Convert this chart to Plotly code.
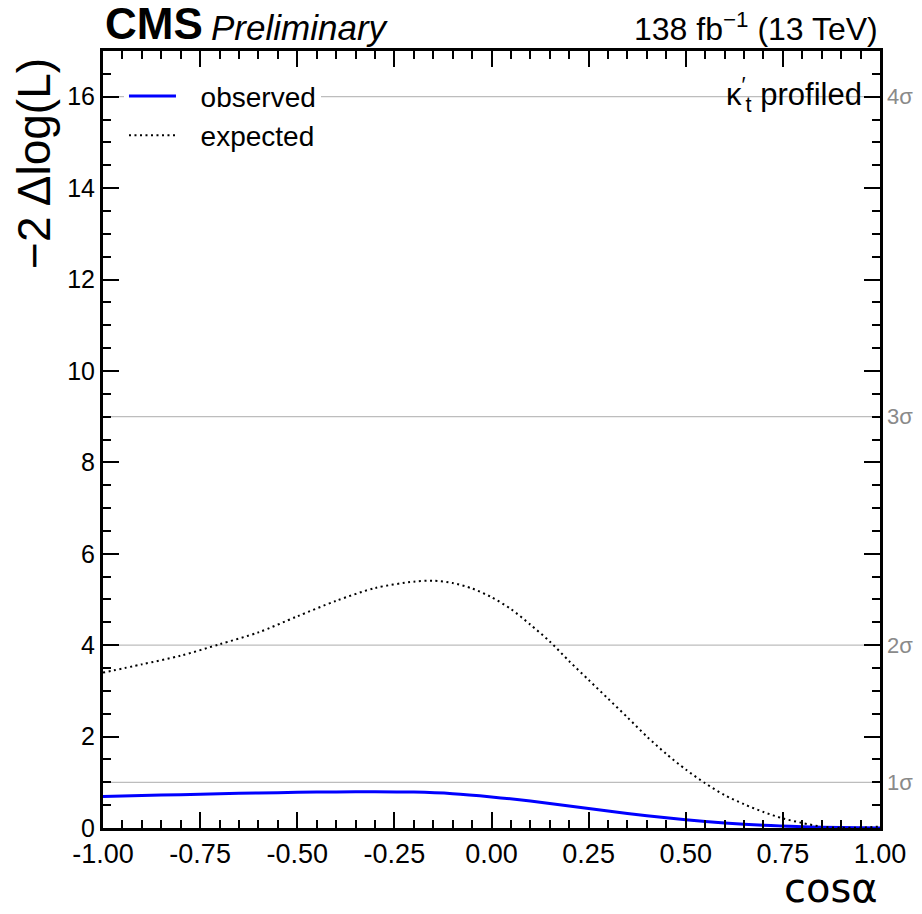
import plotly.graph_objects as go

# Likelihood scan in cos(alpha), kappa'_t profiled
cos_alpha_exp = [-1.0, -0.9, -0.8, -0.7, -0.6, -0.5, -0.4, -0.3, -0.2, -0.15, -0.1, -0.05,
                 0.0, 0.05, 0.1, 0.15, 0.2, 0.25, 0.3, 0.35, 0.4, 0.45, 0.5, 0.55,
                 0.6, 0.65, 0.7, 0.75, 0.8, 0.85, 0.9, 0.95, 1.0]
nll_expected = [3.40, 3.58, 3.77, 4.02, 4.28, 4.63, 4.97, 5.25, 5.39, 5.41, 5.36, 5.24,
                5.05, 4.79, 4.45, 4.08, 3.65, 3.24, 2.83, 2.42, 2.00, 1.62, 1.28, 0.98,
                0.72, 0.52, 0.35, 0.21, 0.11, 0.03, 0.005, 0.01, 0.03]

cos_alpha_obs = [-1.0, -0.9, -0.8, -0.7, -0.6, -0.5, -0.4, -0.3, -0.2, -0.1,
                 0.0, 0.1, 0.2, 0.3, 0.4, 0.5, 0.6, 0.7, 0.8, 0.9, 1.0]
nll_observed = [0.69, 0.71, 0.73, 0.75, 0.765, 0.78, 0.79, 0.795, 0.785, 0.75,
                0.68, 0.59, 0.48, 0.37, 0.27, 0.18, 0.11, 0.06, 0.03, 0.01, 0.0]

# Significance reference levels
sigma_levels = [1, 4, 9, 16]
sigma_labels = ["1σ", "2σ", "3σ", "4σ"]

x_tickvals = [-1.0, -0.75, -0.5, -0.25, 0.0, 0.25, 0.5, 0.75, 1.0]
x_ticktext = ["-1.00", "-0.75", "-0.50", "-0.25", "0.00", "0.25", "0.50", "0.75", "1.00"]
y_tickvals = [0, 2, 4, 6, 8, 10, 12, 14, 16]

FONT = "Liberation Sans, Arial, Helvetica, sans-serif"
WIDE_FONT = "DejaVu Sans, Verdana, sans-serif"
LEGEND_PAD = "\u2002\u2009"  # extra gap between legend sample and its label

fig = go.Figure()

fig.add_trace(go.Scatter(
    x=cos_alpha_obs, y=nll_observed, mode="lines", name=LEGEND_PAD + "observed",
    line=dict(color="#0000ff", width=3, shape="spline", smoothing=0.8),
))
fig.add_trace(go.Scatter(
    x=cos_alpha_exp, y=nll_expected, mode="lines", name=LEGEND_PAD + "expected",
    line=dict(color="black", width=2, dash="2px,3.5px", shape="spline", smoothing=0.8),
))

for lvl in sigma_levels:
    fig.add_shape(type="line", xref="paper", x0=0, x1=1, yref="y", y0=lvl, y1=lvl,
                  line=dict(color="#bdbdbd", width=1.2), layer="below")

annotations = []
for lvl, lab in zip(sigma_levels, sigma_labels):
    annotations.append(dict(x=1, xref="paper", y=lvl, yref="y", text=lab,
                            xanchor="left", yanchor="middle", xshift=5, showarrow=False,
                            font=dict(size=22, color="#8a8a8a", family=FONT)))

annotations += [
    dict(x=0, xref="paper", y=1, yref="paper", text="<b>CMS</b>", xanchor="left",
         yanchor="bottom", yshift=1, showarrow=False,
         font=dict(size=44, color="black", family=FONT)),
    dict(x=0.1365, xref="paper", y=1, yref="paper", text="<i>Preliminary</i>",
         xanchor="left", yanchor="bottom", yshift=2, showarrow=False,
         font=dict(size=35, color="black", family=FONT)),
    dict(x=1, xref="paper", y=1, yref="paper", text="138 fb<sup>−1</sup> (13 TeV)",
         xanchor="right", yanchor="bottom", yshift=2, showarrow=False,
         font=dict(size=32, color="black", family=FONT)),
    dict(x=0.98, xref="paper", y=16.05, yref="y", text="κ<sup>′</sup><sub>t</sub> profiled",
         xanchor="right", yanchor="middle", showarrow=False,
         font=dict(size=31, color="black", family=FONT)),
    dict(x=-0.0888, xref="paper", y=0.993, yref="paper", text="−2 Δlog(L)",
         textangle=-90, xanchor="center", yanchor="top", showarrow=False,
         font=dict(size=46, color="black", family=FONT)),
    dict(x=1, xref="paper", y=0, yref="paper", text="cosα", xanchor="right",
         yanchor="bottom", yshift=-85, showarrow=False,
         font=dict(size=40, color="black", family=WIDE_FONT)),
]

axis_common = dict(
    showline=True, linecolor="black", linewidth=3, mirror="ticks",
    ticks="inside", ticklen=16, tickwidth=1.5, tickcolor="black",
    showgrid=False, zeroline=False,
)

fig.update_xaxes(range=[-1, 1], tickmode="array", tickvals=x_tickvals, ticktext=x_ticktext,
                 tickfont=dict(size=27, color="black", family=FONT),
                 minor=dict(tick0=-1, dtick=0.05, ticks="inside", ticklen=8,
                            tickwidth=1.5, tickcolor="black"),
                 **axis_common)
fig.update_yaxes(range=[0, 17], tickmode="array", tickvals=y_tickvals,
                 tickfont=dict(size=25, color="black", family=FONT),
                 minor=dict(tick0=0, dtick=0.5, ticks="inside", ticklen=8,
                            tickwidth=1.5, tickcolor="black"),
                 **axis_common)

fig.update_layout(
    width=922, height=914,
    margin=dict(l=103, r=42, t=51, b=86),
    plot_bgcolor="white", paper_bgcolor="white",
    font=dict(family=FONT, color="black"),
    showlegend=True,
    legend=dict(x=0.027, y=0.974, xanchor="left", yanchor="top",
                bgcolor="white", borderwidth=0,
                font=dict(size=28, color="black", family=FONT),
                itemwidth=47, tracegroupgap=0),
    annotations=annotations,
)

fig.write_html("out.html")
